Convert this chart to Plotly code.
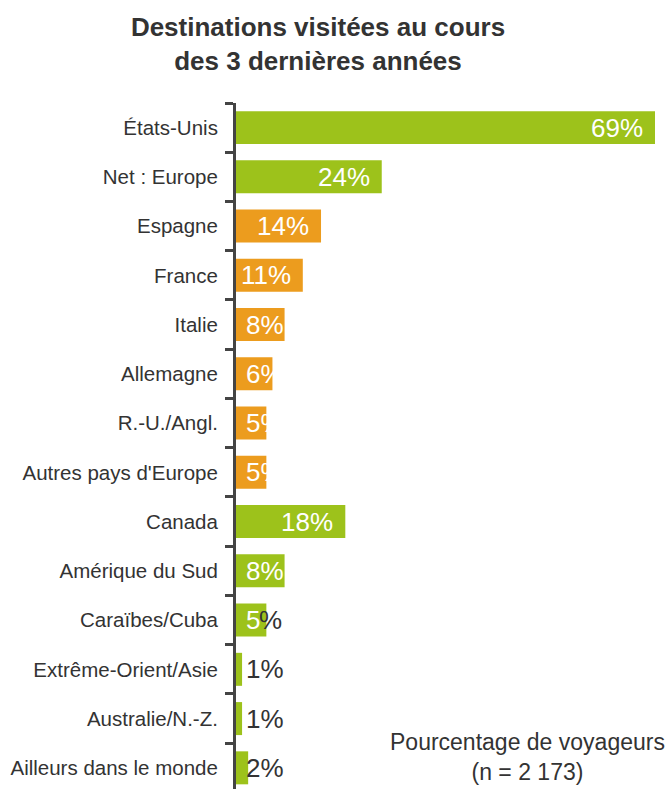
import plotly.graph_objects as go

# Destinations, listed top to bottom
categories = [
    "États-Unis", "Net : Europe", "Espagne", "France", "Italie", "Allemagne",
    "R.-U./Angl.", "Autres pays d'Europe", "Canada", "Amérique du Sud",
    "Caraïbes/Cuba", "Extrême-Orient/Asie", "Australie/N.-Z.", "Ailleurs dans le monde",
]
values = [69, 24, 14, 11, 8, 6, 5, 5, 18, 8, 5, 1, 1, 2]
# "pays" rows are individual European countries, "region" rows are totals / other areas
groups = ["region", "region", "pays", "pays", "pays", "pays", "pays", "pays",
          "region", "region", "region", "region", "region", "region"]

GREEN = "#9dc21b"
ORANGE = "#ec9c1e"
DARK = "#333333"
FONT = "Liberation Sans, Arial, Helvetica, sans-serif"
VAL_SIZE = 26
DIGIT_W = 0.556 * VAL_SIZE  # advance width of one digit

colors = [ORANGE if g == "pays" else GREEN for g in groups]

fig = go.Figure(go.Bar(
    x=values, y=categories, orientation="h",
    marker=dict(color=colors, line=dict(width=0)),
    hoverinfo="skip",
))

# value labels
annotations = []
for cat, v, g in zip(categories, values, groups):
    txt = f"{v}%"
    base = dict(x=0, y=cat, xref="x", yref="y", showarrow=False,
                yanchor="middle", font=dict(family=FONT, size=VAL_SIZE, color="white"))
    dark = dict(family=FONT, size=VAL_SIZE, color=DARK)
    if v >= 10:
        annotations.append({**base, "x": v, "text": txt, "xanchor": "right", "xshift": -10})
    elif g == "pays" or v >= 6:
        annotations.append({**base, "text": txt, "xanchor": "left", "xshift": 8})
    elif v >= 3:
        # number sits inside the bar, the percent sign spills past its end
        digits = str(v)
        annotations.append({**base, "text": digits, "xanchor": "left", "xshift": 8})
        annotations.append({**base, "text": "%", "xanchor": "left",
                            "xshift": 8 + DIGIT_W * len(digits) - 1, "font": dark})
    else:
        annotations.append({**base, "text": txt, "xanchor": "left", "xshift": 8, "font": dark})

annotations.append(dict(
    text="Pourcentage de voyageurs<br>(n = 2 173)",
    xref="paper", yref="paper", x=(527 - 236) / (668 - 236), y=(789 - 757) / (789 - 103),
    xanchor="center", yanchor="middle", align="center", showarrow=False,
    font=dict(family=FONT, size=23, color=DARK),
))

fig.update_layout(
    width=668, height=789,
    margin=dict(l=236, r=0, t=103, b=0),
    paper_bgcolor="white", plot_bgcolor="white",
    bargap=0.33,
    showlegend=False,
    title=dict(
        text="<b>Destinations visitées au cours<br>des 3 dernières années</b>",
        x=318 / 668, xanchor="center", y=(789 - 36) / 789, yanchor="middle",
        font=dict(family=FONT, size=26, color=DARK),
    ),
    xaxis=dict(visible=False, range=[0, 71.14], fixedrange=True),
    yaxis=dict(
        type="category", categoryorder="array", categoryarray=categories,
        range=[13.43, -0.5],
        showline=True, linewidth=3, linecolor="#444444",
        ticks="outside", tickson="boundaries", ticklen=8, tickwidth=2.5, tickcolor="#444444",
        ticklabelstandoff=11,
        tickfont=dict(family=FONT, size=20.5, color=DARK),
        showgrid=False, zeroline=False,
    ),
    annotations=annotations,
)

fig.write_html("out.html")
